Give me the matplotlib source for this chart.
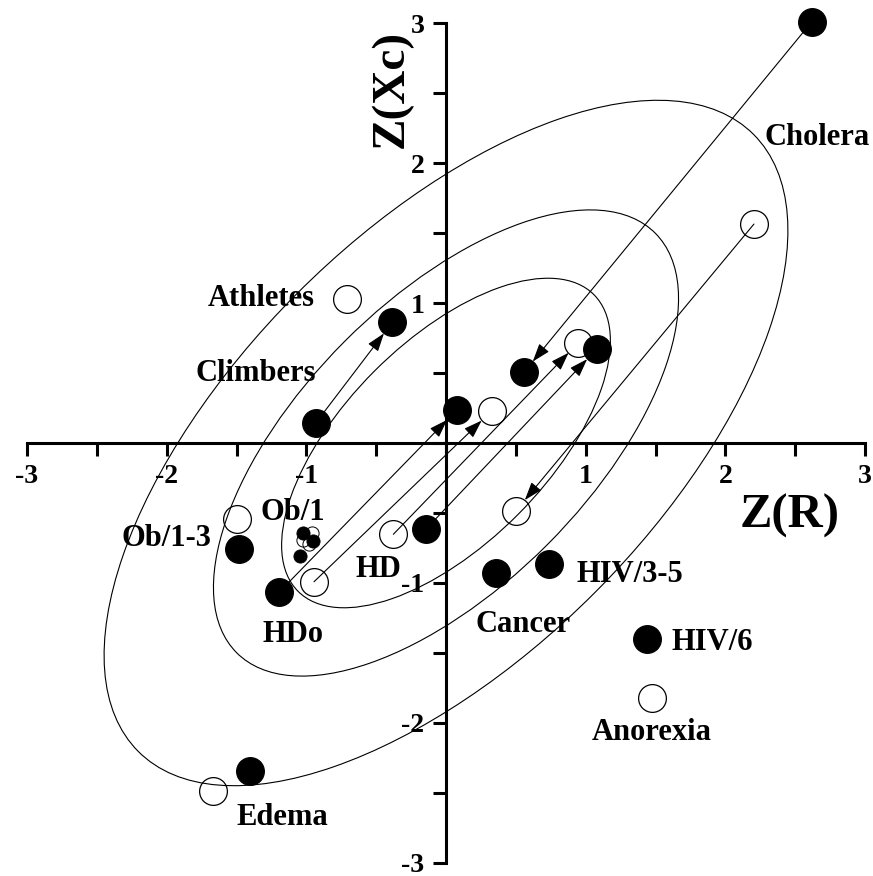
import matplotlib.pyplot as plt
from matplotlib.patches import Ellipse
import numpy as np

# filled circles (big)
filled_x = [2.62, -0.384, -0.931, 0.077, 0.558, 1.079, -0.145, -1.195, -1.484, 0.356, 0.737, 1.437, -1.403]
filled_y = [3.01, 0.862, 0.145, 0.236, 0.505, 0.671, -0.617, -1.066, -0.759, -0.931, -0.866, -1.398, -2.343]
# open circles (big)
open_x = [2.205, -0.706, 0.327, 0.947, 0.501, -0.377, -0.945, -1.494, 1.472, -1.666]
open_y = [1.564, 1.029, 0.229, 0.716, -0.484, -0.652, -0.991, -0.545, -1.824, -2.486]
# small circles (Ob/1 group)
small_filled_x = [-1.021, -0.95, -1.045]
small_filled_y = [-0.645, -0.698, -0.807]
small_open_x = [-0.961, -1.021, -0.981]
small_open_y = [-0.645, -0.693, -0.724]

# arrows: start -> end
arrow_start = [(2.62, 3.01), (2.205, 1.564), (-0.931, 0.145), (-1.195, -1.066),
               (-0.945, -0.991), (-0.377, -0.652), (-0.145, -0.617)]
arrow_end = [(0.558, 0.505), (0.501, -0.484), (-0.384, 0.862), (0.077, 0.236),
             (0.327, 0.229), (0.947, 0.716), (1.079, 0.671)]

# tolerance ellipses (50%, 75%, 95%) in Z-score plane
rho = 0.62
ellipse_radius = [1.177, 1.665, 2.448]

labels = ['Cholera', 'Athletes', 'Climbers', 'Ob/1-3', 'Ob/1', 'HD', 'HDo',
          'Cancer', 'HIV/3-5', 'HIV/6', 'Anorexia', 'Edema']
label_x = [2.283, -1.704, -1.797, -2.32, -1.331, -0.651, -1.317,
           0.208, 0.936, 1.616, 1.043, -1.498]
label_y = [2.185, 1.035, 0.5, -0.68, -0.5, -0.905, -1.37,
           -1.295, -0.938, -1.428, -2.07, -2.678]

ticks = [-3, -2, -1, 1, 2, 3]
tick_labels = ['-3', '-2', '-1', '1', '2', '3']

plt.rcParams['font.family'] = ['Liberation Serif', 'DejaVu Serif']
plt.rcParams['font.weight'] = 'bold'

fig = plt.figure(figsize=(8.73, 8.76), dpi=100)
ax = fig.add_axes([27 / 873, 13 / 876, 838 / 873, 840 / 876])
ax.set_xlim(-3, 3)
ax.set_ylim(-3, 3)

for r in ellipse_radius:
    w = 2 * r * np.sqrt(1 + rho)
    h = 2 * r * np.sqrt(1 - rho)
    ax.add_patch(Ellipse((0, 0), w, h, angle=45, fill=False, lw=0.8, ec='k', zorder=1))

for (x0, y0), (x1, y1) in zip(arrow_start, arrow_end):
    ax.annotate('', xy=(x1, y1), xytext=(x0, y0),
                arrowprops=dict(arrowstyle='-|>,head_length=0.7,head_width=0.24',
                                color='k', lw=0.8, shrinkA=0, shrinkB=10,
                                mutation_scale=16), zorder=2)

ax.plot(filled_x, filled_y, 'o', ms=20, mfc='k', mec='k', mew=0.8, zorder=4, clip_on=False)
ax.plot(open_x, open_y, 'o', ms=20, mfc='none', mec='k', mew=0.9, zorder=4, clip_on=False)
ax.plot(small_filled_x, small_filled_y, 'o', ms=9.5, mfc='k', mec='k', mew=0.6, zorder=4)
ax.plot(small_open_x, small_open_y, 'o', ms=9.5, mfc='none', mec='k', mew=0.7, zorder=4)

for t, x, y in zip(labels, label_x, label_y):
    ax.text(x, y, t, fontsize=22, fontweight='bold', ha='left', va='center')

# axes through origin
for s in ['top', 'right']:
    ax.spines[s].set_visible(False)
for s in ['left', 'bottom']:
    ax.spines[s].set_position('zero')
    ax.spines[s].set_linewidth(2.2)

ax.set_xticks(ticks)
ax.set_xticklabels(tick_labels)
ax.set_yticks(ticks)
ax.set_yticklabels(tick_labels)
ax.set_xticks([-2.5, -1.5, -0.5, 0, 0.5, 1.5, 2.5], minor=True)
ax.set_yticks([-2.5, -1.5, -0.5, 0, 0.5, 1.5, 2.5], minor=True)
ax.tick_params(which='both', direction='out', length=9.4, width=2.2)
ax.tick_params(axis='both', which='major', labelsize=20, pad=6)
for lab in ax.get_xticklabels() + ax.get_yticklabels():
    lab.set_fontweight('bold')

ax.text(2.462, -0.52, 'Z(R)', fontsize=35, fontweight='bold', ha='center', va='center')
ax.text(-0.39, 2.53, 'Z(Xc)', fontsize=34, fontweight='bold', ha='center', va='center',
        rotation=90)

fig.savefig('out.png', dpi=100)
